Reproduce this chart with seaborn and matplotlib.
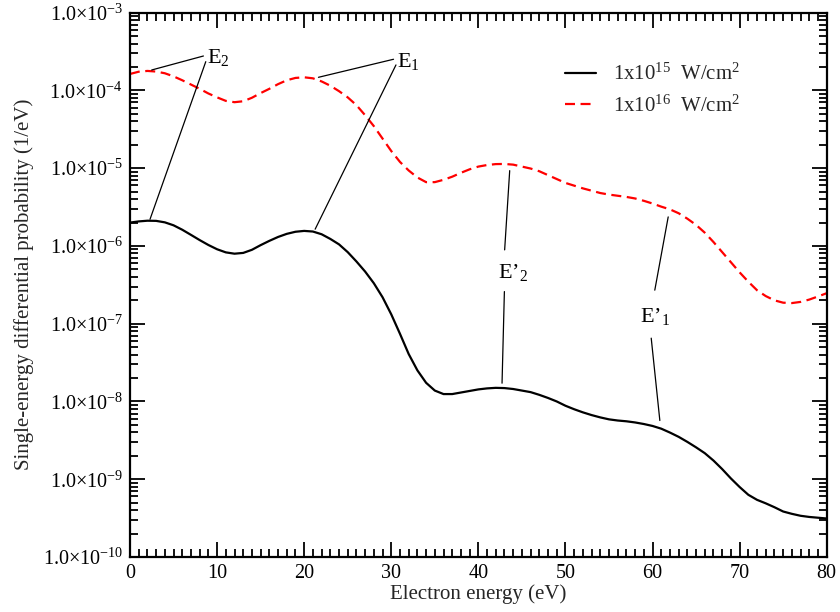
import numpy as np
import pandas as pd
import matplotlib
matplotlib.use("Agg")
import matplotlib.pyplot as plt
import seaborn as sns
from matplotlib.ticker import FixedLocator, FuncFormatter, LogLocator, NullFormatter, MultipleLocator

# ---------------- data ----------------
energy_ev = list(range(0, 81))

# log10 of single-energy differential probability (1/eV)
log10_prob_1e15 = [
    -5.700, -5.685, -5.676, -5.678, -5.697, -5.735, -5.792, -5.858, -5.925, -5.988,
    -6.043, -6.083, -6.100, -6.090, -6.050, -5.990, -5.935, -5.885, -5.845, -5.818,
    -5.807, -5.815, -5.850, -5.910, -5.980, -6.080, -6.200, -6.330, -6.480, -6.660,
    -6.880, -7.130, -7.390, -7.600, -7.760, -7.860, -7.905, -7.905, -7.885, -7.865,
    -7.845, -7.832, -7.825, -7.828, -7.840, -7.860, -7.880, -7.915, -7.955, -8.000,
    -8.055, -8.100, -8.140, -8.175, -8.205, -8.230, -8.245, -8.255, -8.270, -8.290,
    -8.315, -8.350, -8.400, -8.455, -8.520, -8.590, -8.665, -8.760, -8.870, -8.990,
    -9.100, -9.200, -9.265, -9.310, -9.360, -9.415, -9.445, -9.470, -9.485, -9.495,
    -9.505,
]
log10_prob_1e16 = [
    -3.789, -3.760, -3.750, -3.758, -3.780, -3.820, -3.870, -3.925, -3.980, -4.040,
    -4.090, -4.135, -4.152, -4.140, -4.095, -4.035, -3.980, -3.920, -3.870, -3.840,
    -3.832, -3.845, -3.885, -3.940, -4.010, -4.090, -4.190, -4.320, -4.460, -4.620,
    -4.780, -4.920, -5.030, -5.120, -5.180, -5.180, -5.150, -5.110, -5.060, -5.015,
    -4.980, -4.960, -4.948, -4.946, -4.955, -4.980, -5.005, -5.040, -5.090, -5.140,
    -5.190, -5.225, -5.260, -5.290, -5.320, -5.340, -5.355, -5.370, -5.390, -5.420,
    -5.455, -5.495, -5.530, -5.580, -5.650, -5.730, -5.830, -5.950, -6.080, -6.210,
    -6.340, -6.460, -6.570, -6.645, -6.700, -6.730, -6.735, -6.720, -6.690, -6.650,
    -6.608,
]

series_labels = [r"1x10$^{15}$  W/cm$^{2}$", r"1x10$^{16}$  W/cm$^{2}$"]
y_tick_exponents = [-10, -9, -8, -7, -6, -5, -4, -3]
x_ticks = [0, 10, 20, 30, 40, 50, 60, 70, 80]

# annotation labels: (text, x_eV, log10 y) and pointer segments (x0, log0, x1, log1)
annot_labels = [
    (r"E$_{2}$", 8.82, -3.652),
    (r"E$_{1}$", 30.65, -3.695),
    (r"E’$_{2}$", 42.22, -6.415),
    (r"E’$_{1}$", 58.54, -6.973),
]
annot_segments = [
    (2.49, -3.738, 8.43, -3.558),
    (8.70, -3.631, 2.30, -5.657),
    (21.64, -3.832, 30.26, -3.600),
    (30.54, -3.673, 21.26, -5.785),
    (43.60, -5.032, 43.02, -6.051),
    (42.99, -6.587, 42.72, -7.765),
    (61.80, -5.627, 60.26, -6.569),
    (59.85, -7.186, 60.84, -8.245),
]

# ---------------- styling ----------------
sns.set_theme(style="ticks")
plt.rcParams["font.family"] = ["Liberation Serif", "DejaVu Serif"]
plt.rcParams["mathtext.fontset"] = "custom"
plt.rcParams["mathtext.rm"] = "Liberation Serif"
plt.rcParams["mathtext.it"] = "Liberation Serif:italic"
plt.rcParams["mathtext.bf"] = "Liberation Serif:bold"

df = pd.DataFrame({
    "energy": energy_ev * 2,
    "prob": np.power(10.0, log10_prob_1e15 + log10_prob_1e16),
    "series": [series_labels[0]] * len(energy_ev) + [series_labels[1]] * len(energy_ev),
})

fig = plt.figure(figsize=(8.4, 6.12), dpi=100)
ax = fig.add_axes([130 / 840, 1 - 557 / 612, (826.7 - 130) / 840, (557 - 12.6) / 612])

sns.lineplot(data=df, x="energy", y="prob", hue="series", style="series",
             palette=["black", "red"], dashes=[(None, None), (4.5, 2.5)],
             linewidth=1.6, ax=ax, legend=True)
ax.lines[1].set_dashes((4.5, 2.5))

ax.set_yscale("log")
ax.set_xlim(0, 80)
ax.set_ylim(1e-10, 1e-3)

# ticks
ax.xaxis.set_major_locator(FixedLocator(x_ticks))
ax.xaxis.set_minor_locator(MultipleLocator(1))
ax.yaxis.set_major_locator(FixedLocator([10.0 ** e for e in y_tick_exponents]))
ax.yaxis.set_minor_locator(LogLocator(base=10, subs=np.arange(2, 10), numticks=20))
ax.yaxis.set_minor_formatter(NullFormatter())
ax.yaxis.set_major_formatter(FuncFormatter(
    lambda v, p: r"1.0×10$^{\mathrm{%d}}$" % int(round(np.log10(v)))))
ax.tick_params(which="both", direction="in", top=True, right=True, colors="black",
               labelsize=14.5, width=1.3)
ax.tick_params(which="major", length=11)
ax.tick_params(which="minor", length=6)
ax.tick_params(axis="y", which="major", pad=5)
ax.tick_params(axis="x", which="major", pad=5)
for s in ax.spines.values():
    s.set_linewidth(1.6)
    s.set_color("black")

ax.set_xlabel("Electron energy (eV)", fontsize=15, labelpad=1)
ax.set_ylabel("Single-energy differential probability (1/eV)", fontsize=15, labelpad=6)

# annotations
for x0, l0, x1, l1 in annot_segments:
    ax.plot([x0, x1], [10.0 ** l0, 10.0 ** l1], color="black", linewidth=0.9)
for txt, x, l in annot_labels:
    ax.text(x, 10.0 ** l, txt, fontsize=16, ha="left", va="baseline", color="black")

leg = ax.legend(loc="upper left", bbox_to_anchor=((565 - 130) / 696.7, 0.906),
                frameon=False, fontsize=15, handlelength=1.5, handletextpad=0.8,
                borderpad=0, labelspacing=0.5, borderaxespad=0)
for h in leg.get_lines():
    h.set_linewidth(1.6)
leg.get_lines()[1].set_dashes((4.5, 2.5))

fig.savefig("out.png", dpi=100)
